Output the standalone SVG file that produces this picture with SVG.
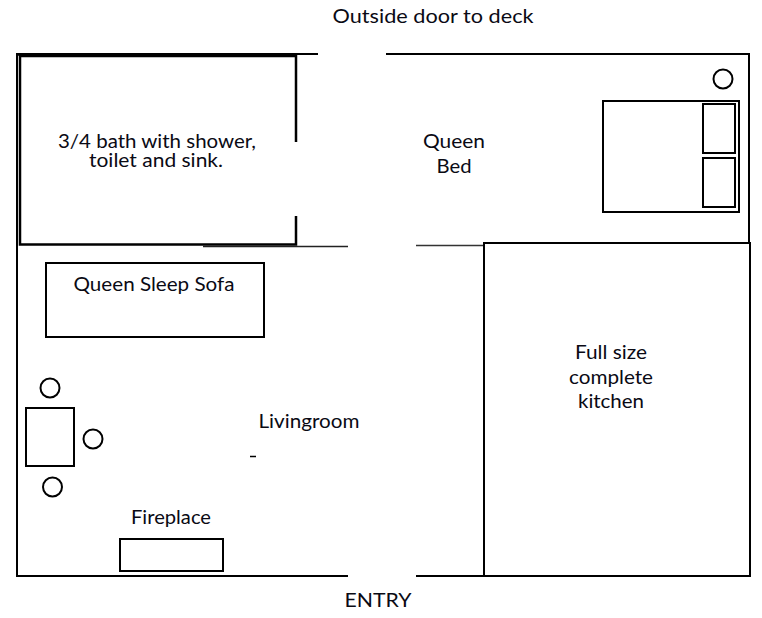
<svg xmlns="http://www.w3.org/2000/svg" width="762" height="618" viewBox="0 0 762 618">
<style>
.w{fill:none;stroke:#000;stroke-width:2}
.t{font-family:"Lato","Liberation Sans",sans-serif;font-size:19.5px;fill:#0a0a14;text-anchor:middle}
</style>
<rect width="762" height="618" fill="#fff"/>
<g id="connectors">
<path class="w" d="M318 54H17V576H348"/>
<path class="w" d="M386 54H749V243"/>
<path class="w" d="M416 576H484"/>
<path d="M203 246.500H348" fill="none" stroke="#222" stroke-width="1.500"/>
<path d="M416 245.500H484" fill="none" stroke="#333" stroke-width="1.500"/>
<path d="M250 456.500H256" fill="none" stroke="#000" stroke-width="1.500"/>
</g>
<g id="bath"><path d="M296 142V56H20V244.500H296V216" fill="none" stroke="#000" stroke-width="2.500"/><path d="M17 54.500H296" fill="none" stroke="#000" stroke-width="2.500"/>
<text class="t" x="157" y="148" textLength="198" lengthAdjust="spacingAndGlyphs">3/4 bath with shower,</text><text class="t" x="156" y="167" textLength="134" lengthAdjust="spacingAndGlyphs">toilet and sink.</text></g>
<g id="bed"><rect class="w" x="603" y="101" width="136" height="111"/><rect class="w" x="703" y="104" width="32" height="49"/><rect class="w" x="703" y="158" width="32" height="49"/><circle class="w" cx="723" cy="79" r="9.500"/>
<text class="t" x="454" y="148" textLength="62" lengthAdjust="spacingAndGlyphs">Queen</text><text class="t" x="454" y="173" textLength="35" lengthAdjust="spacingAndGlyphs">Bed</text></g>
<g id="kitchen"><rect class="w" x="484" y="243" width="266" height="333"/>
<text class="t" x="611" y="359" textLength="72" lengthAdjust="spacingAndGlyphs">Full size</text><text class="t" x="611" y="384" textLength="84" lengthAdjust="spacingAndGlyphs">complete</text><text class="t" x="611" y="408" textLength="66" lengthAdjust="spacingAndGlyphs">kitchen</text></g>
<g id="sofa"><rect class="w" x="46" y="263" width="218" height="74"/><text class="t" x="154" y="291" textLength="161" lengthAdjust="spacingAndGlyphs">Queen Sleep Sofa</text></g>
<g id="table"><rect class="w" x="26" y="408" width="48" height="58"/><circle class="w" cx="50" cy="388" r="9.500"/><circle class="w" cx="93" cy="439" r="9.500"/><circle class="w" cx="52.500" cy="487" r="9.500"/></g>
<g id="fireplace"><rect class="w" x="120" y="539" width="103" height="32"/><text class="t" x="171" y="524" textLength="80" lengthAdjust="spacingAndGlyphs">Fireplace</text></g>
<g id="labels"><text class="t" x="433" y="23" textLength="201" lengthAdjust="spacingAndGlyphs">Outside door to deck</text><text class="t" x="309" y="428" textLength="101" lengthAdjust="spacingAndGlyphs">Livingroom</text><text class="t" x="378" y="607" textLength="67" lengthAdjust="spacingAndGlyphs">ENTRY</text></g>
</svg>
